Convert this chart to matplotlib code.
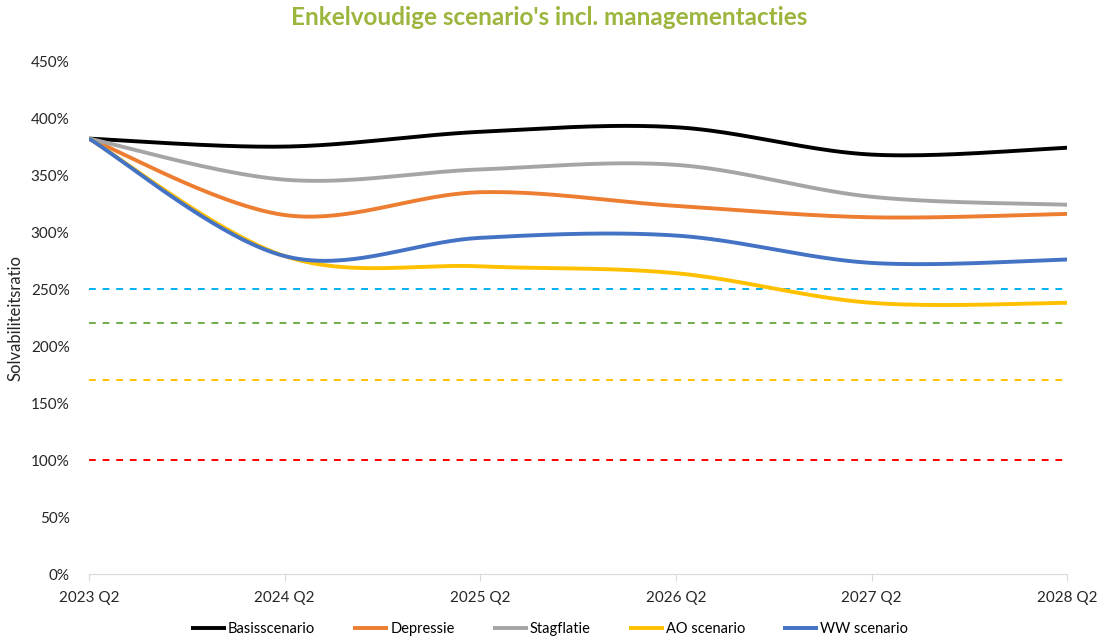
import numpy as np
import matplotlib.pyplot as plt
from matplotlib.ticker import PercentFormatter

plt.rcParams['font.family'] = ['Lato', 'DejaVu Sans']

# Data (solvency ratio in %)
quarters = ['2023 Q2', '2024 Q2', '2025 Q2', '2026 Q2', '2027 Q2', '2028 Q2']
basis = [382, 375, 388, 392, 368, 374]
depressie = [382, 315, 335, 323, 313, 316]
stagflatie = [382, 346, 355, 359, 331, 324]
ao_scenario = [382, 279, 270, 264, 238, 238]
ww_scenario = [382, 279, 295, 297, 273, 276]

# Threshold lines
thresholds = [250, 220, 170, 100]
threshold_colors = ['#00B0F0', '#70AD47', '#FFC000', '#FF0000']

series = [
    ('Basisscenario', basis, '#000000'),
    ('Depressie', depressie, '#ED7D31'),
    ('Stagflatie', stagflatie, '#A5A5A5'),
    ('AO scenario', ao_scenario, '#FFC000'),
    ('WW scenario', ww_scenario, '#4472C4'),
]


def smooth(x, y, n=40):
    # Excel-style smoothed line: cubic bezier with catmull-rom control points
    x = np.asarray(x, float)
    y = np.asarray(y, float)
    px = np.concatenate([[x[0]], x, [x[-1]]])
    py = np.concatenate([[y[0]], y, [y[-1]]])
    xs, ys = [], []
    t = np.linspace(0, 1, n)
    for i in range(len(x) - 1):
        p0 = np.array([px[i + 1], py[i + 1]])
        p3 = np.array([px[i + 2], py[i + 2]])
        p1 = p0 + (p3 - np.array([px[i], py[i]])) / 6
        p2 = p3 - (np.array([px[i + 3], py[i + 3]]) - p0) / 6
        pts = ((1 - t) ** 3)[:, None] * p0 + (3 * (1 - t) ** 2 * t)[:, None] * p1 \
            + (3 * (1 - t) * t ** 2)[:, None] * p2 + (t ** 3)[:, None] * p3
        xs.extend(pts[:, 0])
        ys.extend(pts[:, 1])
    return np.array(xs), np.array(ys)


fig = plt.figure(figsize=(10.99, 6.43), dpi=100)
ax = fig.add_axes([0.081, 0.107, 0.89, 0.798])

x = np.arange(len(quarters))
for val, col in zip(thresholds, threshold_colors):
    ax.plot([x[0], x[-1]], [val, val], color=col, lw=1.4, dashes=(3.5, 3.5))

for name, vals, col in series:
    sx, sy = smooth(x, vals)
    ax.plot(sx, sy, color=col, lw=2.8, label=name, solid_capstyle='butt')

ax.set_xlim(0, 5)
ax.set_ylim(0, 450)
ax.set_yticks(np.arange(0, 451, 50))
ax.yaxis.set_major_formatter(PercentFormatter(decimals=0))
ax.set_xticks(x)
ax.set_xticklabels(quarters)

for s in ['top', 'right', 'left']:
    ax.spines[s].set_visible(False)
ax.spines['bottom'].set_color('#D9D9D9')
ax.tick_params(axis='y', length=0, labelsize=11, colors='#262626', pad=14)
ax.tick_params(axis='x', length=5, color='#D9D9D9', labelsize=11, labelcolor='#262626', pad=7)

ax.set_ylabel('Solvabiliteitsratio', fontsize=12, color='#262626', labelpad=5)
fig.suptitle("Enkelvoudige scenario's incl. managementacties", x=0.5, y=0.99,
             fontsize=17.5, fontweight='bold', color='#9BB53D')

fig.legend(loc='lower center', bbox_to_anchor=(0.5, -0.01), ncol=5, frameon=False,
           fontsize=10.5, handlelength=2.4, handletextpad=0.15, columnspacing=2.6)

fig.savefig('out.png', dpi=100)
